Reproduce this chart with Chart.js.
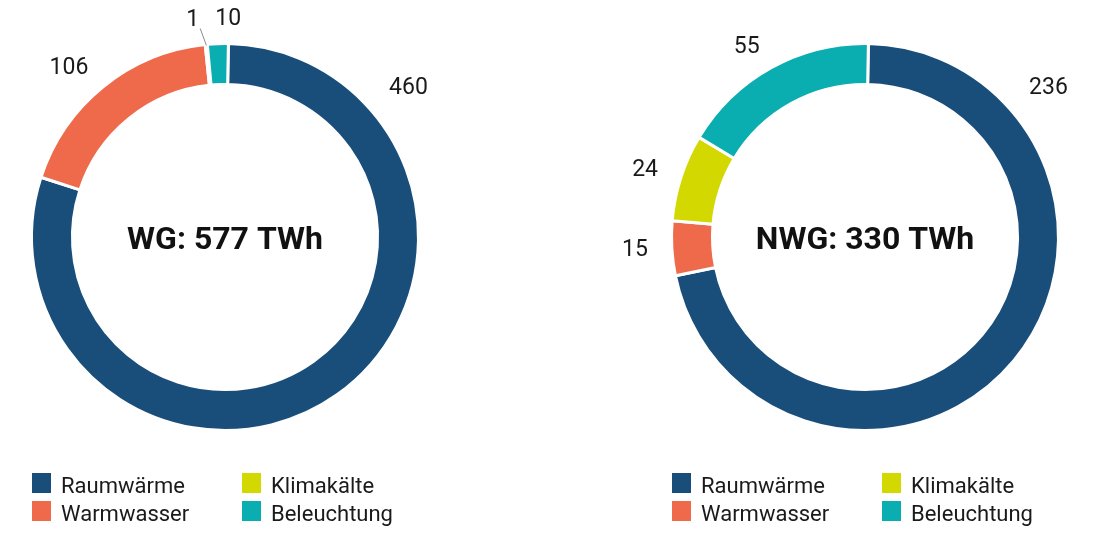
<!DOCTYPE html>
<html lang="de">
<head>
<meta charset="utf-8">
<script src="https://cdn.jsdelivr.net/npm/chart.js@4/dist/chart.umd.min.js"></script>
<style>
  html, body { margin:0; padding:0; background:#fff; }
  body { width:1104px; height:535px; position:relative; overflow:hidden; font-family: Roboto, "Noto Sans", sans-serif; }
  .box { position:absolute; top:0; width:552px; height:535px; }
  .legend { position:absolute; top:473px; display:grid; grid-template-columns:210px 210px; grid-auto-flow:column; grid-template-rows:20px 20px; row-gap:8px; }
  .item { display:flex; align-items:center; height:20px; }
  .sw { width:19px; height:20px; flex:none; }
  .tx { margin-left:10px; font-size:22px; line-height:20px; color:#1a1a1a; position:relative; top:3px; white-space:nowrap; }
</style>
</head>
<body>
<div class="box" style="left:0"><canvas id="c1"></canvas></div>
<div class="box" style="left:552px"><canvas id="c2"></canvas></div>
<div class="legend" id="lg1" style="left:32px"></div>
<div class="legend" id="lg2" style="left:672px"></div>
<script>
// ---- data ----
const categories = ['Raumwärme', 'Warmwasser', 'Klimakälte', 'Beleuchtung'];
const wgValues   = [460, 106, 1, 10];
const nwgValues  = [236, 15, 24, 55];
const chartTitles = ['WG', 'NWG'];
const unit = 'TWh';
const colors = ['#1a4e7a', '#ee6a4b', '#d3d800', '#0aadb0'];

const labelPlugin = {
  id: 'ringLabels',
  afterDatasetsDraw(chart, args, opts) {
    const ctx = chart.ctx;
    const meta = chart.getDatasetMeta(0);
    const values = chart.data.datasets[0].data;
    ctx.save();
    ctx.font = '23px Roboto';
    ctx.fillStyle = '#1a1a1a';
    ctx.textBaseline = 'middle';
    const items = meta.data.map((arc, i) => {
      const p = arc.getProps(['x', 'y', 'startAngle', 'endAngle', 'outerRadius'], true);
      const span = p.endAngle - p.startAngle;
      const mid = (p.startAngle + p.endAngle) / 2;
      const big = span > Math.PI;
      const a = big ? p.startAngle + Math.PI * 0.26 : mid;
      const r = p.outerRadius + (big ? 28 : 24);
      const text = String(values[i]);
      const w = ctx.measureText(text).width;
      const c = Math.cos(a);
      let align = Math.abs(c) < 0.3 ? 'center' : (c > 0 ? 'left' : 'right');
      let x = p.x + r * Math.cos(a);
      const y = p.y + r * Math.sin(a);
      let cxBox = align === 'center' ? x : (align === 'left' ? x + w / 2 : x - w / 2);
      return { text, w, y, cxBox, span, mid, p, moved: false };
    });
    // simple horizontal collision resolution
    const gap = 16;
    for (let iter = 0; iter < 5; iter++) {
      const sorted = items.slice().sort((m, n) => m.cxBox - n.cxBox);
      for (let k = 0; k < sorted.length - 1; k++) {
        const A = sorted[k], B = sorted[k + 1];
        if (Math.abs(A.y - B.y) > 20) continue;
        const need = (A.w + B.w) / 2 + gap;
        const have = B.cxBox - A.cxBox;
        if (have < need) {
          const s = (need - have) / 2;
          A.cxBox -= s; B.cxBox += s; A.moved = B.moved = true;
        }
      }
    }
    ctx.textAlign = 'center';
    items.forEach(it => {
      ctx.fillText(it.text, it.cxBox, it.y);
      if (it.moved && it.span < 0.035) {
        const R = it.p.outerRadius - 1;
        ctx.beginPath();
        ctx.strokeStyle = '#8a8a8a';
        ctx.lineWidth = 1;
        ctx.moveTo(it.p.x + R * Math.cos(it.mid), it.p.y + R * Math.sin(it.mid));
        ctx.lineTo(it.cxBox + it.w / 2 + 1, it.y + 8);
        ctx.stroke();
      }
    });
    // centre text
    const total = values.reduce((s, v) => s + v, 0);
    const m0 = meta.data[0];
    ctx.font = 'bold 32px Roboto';
    ctx.fillStyle = '#111';
    ctx.textBaseline = 'alphabetic';
    ctx.textAlign = 'center';
    ctx.fillText(opts.title + ': ' + total + ' ' + unit, m0.x, m0.y + 11.5);
    ctx.restore();
  }
};

function makeChart(id, values, title, padding) {
  return new Chart(document.getElementById(id), {
    type: 'doughnut',
    data: {
      labels: categories,
      datasets: [{
        data: values,
        backgroundColor: colors,
        borderColor: '#ffffff',
        borderWidth: 3,
        hoverBorderWidth: 3,
        hoverOffset: 0
      }]
    },
    options: {
      responsive: true,
      maintainAspectRatio: false,
      animation: false,
      events: [],
      rotation: 1,
      radius: 193.5,
      cutout: 156.5,
      layout: { padding },
      plugins: {
        legend: { display: false },
        tooltip: { enabled: false },
        ringLabels: { title }
      }
    },
    plugins: [labelPlugin]
  });
}

makeChart('c1', wgValues, chartTitles[0], { left: 25, right: 127, top: 37, bottom: 98 });
makeChart('c2', nwgValues, chartTitles[1], { left: 113, right: 39, top: 37, bottom: 98 });

function buildLegend(id) {
  const el = document.getElementById(id);
  categories.forEach((name, i) => {
    const item = document.createElement('div');
    item.className = 'item';
    const sw = document.createElement('span');
    sw.className = 'sw';
    sw.style.background = colors[i];
    const tx = document.createElement('span');
    tx.className = 'tx';
    tx.textContent = name;
    item.appendChild(sw); item.appendChild(tx);
    el.appendChild(item);
  });
}
buildLegend('lg1');
buildLegend('lg2');
</script>
</body>
</html>
